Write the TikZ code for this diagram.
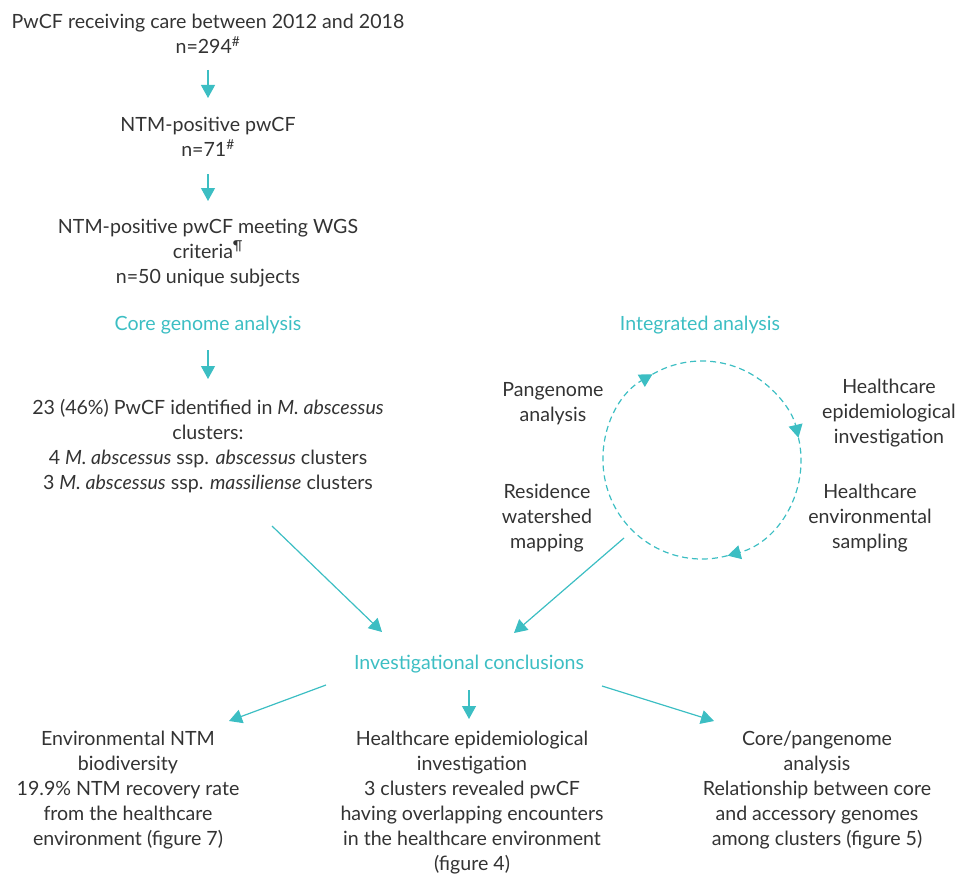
\documentclass[tikz,border=0pt]{standalone}
\usepackage{fontspec}
\setmainfont{Lato}
\usetikzlibrary{arrows.meta,calc}
\definecolor{teal1}{HTML}{3CBEC3}
\definecolor{txt}{HTML}{333333}
\begin{document}
\begin{tikzpicture}[x=1pt,y=-1pt,
 every node/.style={font=\fontsize{19.6}{25}\selectfont, text=txt, align=center, inner sep=0pt},
 hd/.style={text=teal1},
 conn/.style={draw=teal1, line width=1.2pt, -{Triangle[length=13pt,width=14pt]}},
 cyc/.style={draw=teal1, line width=1.2pt, dash pattern=on 6pt off 4pt, -{Triangle[length=13pt,width=14pt]}}]
\useasboundingbox (0,0) rectangle (963,880);

\node (t1) at (208,34) {PwCF receiving care between 2012 and 2018\\n=294\textsuperscript{\#}};
\node (t2) at (208,137) {NTM-positive pwCF\\n=71\textsuperscript{\#}};
\node (t3) at (208,253) {NTM-positive pwCF meeting WGS\\criteria\textsuperscript{\P}\\n=50 unique subjects};
\node[hd] (core) at (208,325) {Core genome analysis};
\node (t4) at (208,446) {23 (46\%) PwCF identified in \textit{M. abscessus}\\clusters:\\4 \textit{M. abscessus} ssp. \textit{abscessus} clusters\\3 \textit{M. abscessus} ssp. \textit{massiliense} clusters};

\coordinate (a1s) at (208,70); \coordinate (a1e) at (208,98);
\coordinate (a2s) at (208,174); \coordinate (a2e) at (208,201);
\coordinate (a3s) at (208,350); \coordinate (a3e) at (208,379);
\draw[conn] (a1s) -- (a1e);
\draw[conn] (a2s) -- (a2e);
\draw[conn] (a3s) -- (a3e);

\node[hd] (int) at (700,325) {Integrated analysis};
\coordinate (cc) at (702,460);
\draw[cyc] ($(cc)+(75:99)$) arc[start angle=75, end angle=240, radius=99];
\draw[cyc] ($(cc)+(-120:99)$) arc[start angle=-120, end angle=-13, radius=99];
\draw[cyc] ($(cc)+(-13:99)$) arc[start angle=-13, end angle=75, radius=99];

\node (pan) at (553,404) {Pangenome\\analysis};
\node (hepi) at (889,413) {Healthcare\\epidemiological\\investigation};
\node (res) at (547,518) {Residence\\watershed\\mapping};
\node (henv) at (870,518) {Healthcare\\environmental\\sampling};

\node[hd] (conc) at (469,664) {Investigational conclusions};

\coordinate (l1s) at (272,526); \coordinate (l1e) at (382,632);
\coordinate (l2s) at (624,538); \coordinate (l2e) at (514,633);
\draw[conn] (l1s) -- (l1e);
\draw[conn] (l2s) -- (l2e);

\coordinate (c1s) at (326,685); \coordinate (c1e) at (229,721);
\coordinate (c2s) at (469,690); \coordinate (c2e) at (469,719);
\coordinate (c3s) at (602,686); \coordinate (c3e) at (714,721);
\draw[conn] (c1s) -- (c1e);
\draw[conn] (c2s) -- (c2e);
\draw[conn] (c3s) -- (c3e);

\node (b1) at (128,790) {Environmental NTM\\biodiversity\\19.9\% NTM recovery rate\\from the healthcare\\environment (figure 7)};
\node (b2) at (472,803) {Healthcare epidemiological\\investigation\\3 clusters revealed pwCF\\having overlapping encounters\\in the healthcare environment\\(figure 4)};
\node (b3) at (817,790) {Core/pangenome\\analysis\\Relationship between core\\and accessory genomes\\among clusters (figure 5)};
\end{tikzpicture}
\end{document}
